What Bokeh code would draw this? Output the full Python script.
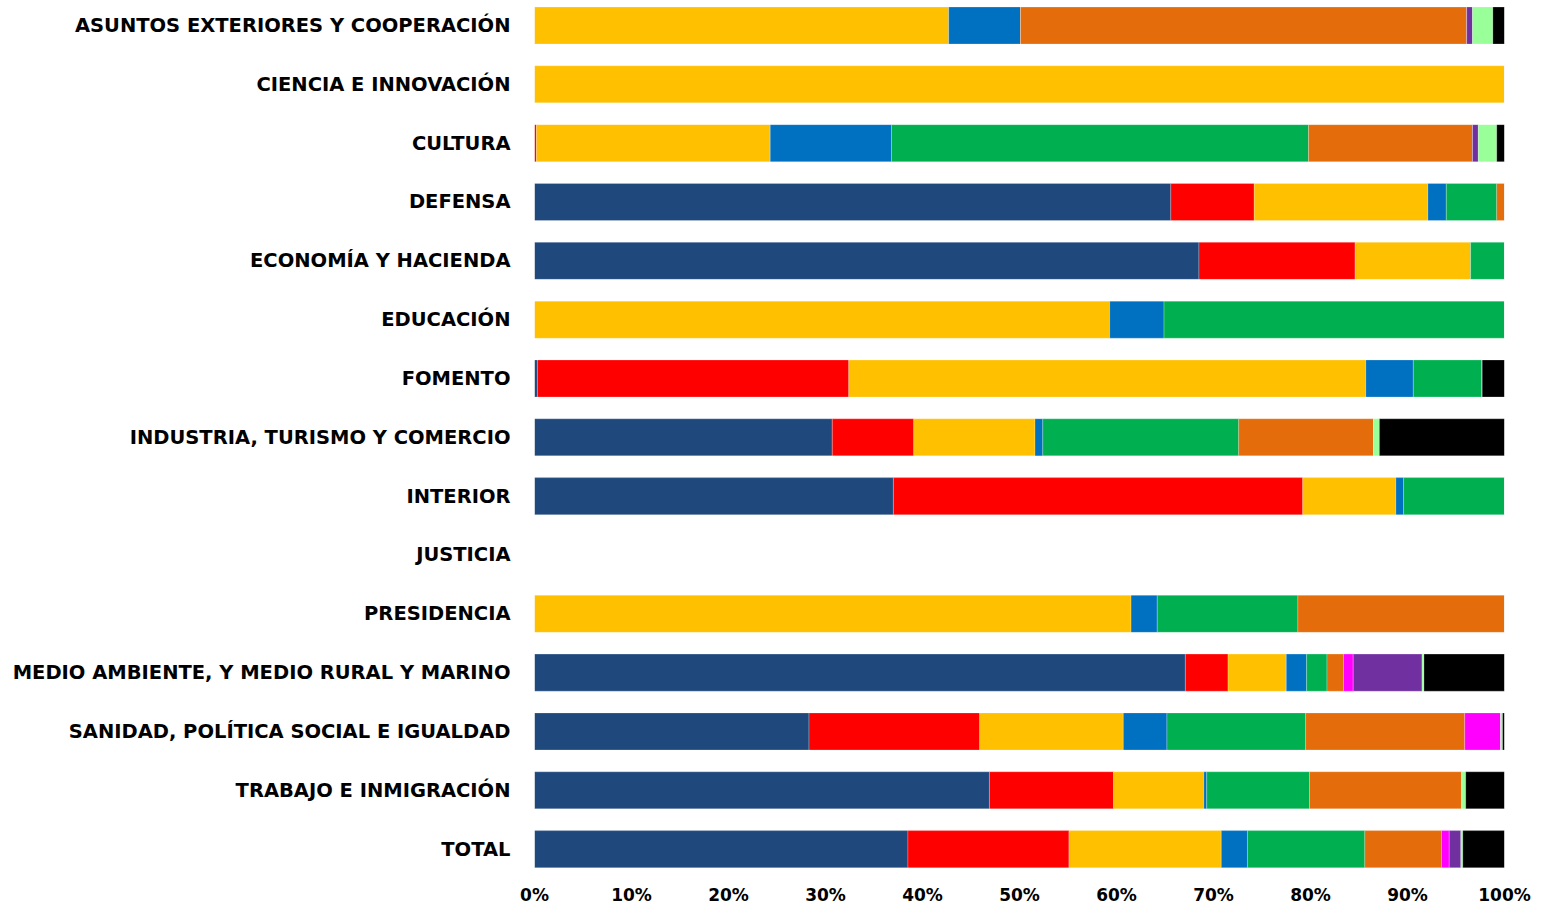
from bokeh.plotting import figure
from bokeh.models import ColumnDataSource, Range1d, FixedTicker, PrintfTickFormatter
from bokeh.embed import file_html
from bokeh.resources import INLINE

categories = [
    "ASUNTOS EXTERIORES Y COOPERACIÓN",
    "CIENCIA E INNOVACIÓN",
    "CULTURA",
    "DEFENSA",
    "ECONOMÍA Y HACIENDA",
    "EDUCACIÓN",
    "FOMENTO",
    "INDUSTRIA, TURISMO Y COMERCIO",
    "INTERIOR",
    "JUSTICIA",
    "PRESIDENCIA",
    "MEDIO AMBIENTE, Y MEDIO RURAL Y MARINO",
    "SANIDAD, POLÍTICA SOCIAL E IGUALDAD",
    "TRABAJO E INMIGRACIÓN",
    "TOTAL",
]

serie_1 = [0, 0, 0, 65.6, 68.5, 0, 0.3, 30.7, 37.0, 0, 0, 67.1, 28.3, 46.9, 38.5]
serie_2 = [0, 0, 0.2, 8.6, 16.1, 0, 32.1, 8.4, 42.2, 0, 0, 4.4, 17.6, 12.8, 16.6]
serie_3 = [42.7, 100, 24.1, 17.9, 11.9, 59.3, 53.3, 12.5, 9.6, 0, 61.5, 6.0, 14.8, 9.3, 15.7]
serie_4 = [7.4, 0, 12.5, 1.9, 0, 5.6, 4.9, 0.8, 0.8, 0, 2.7, 2.1, 4.5, 0.3, 2.7]
serie_5 = [0, 0, 43.0, 5.2, 3.5, 35.1, 7.1, 20.2, 10.4, 0, 14.5, 2.1, 14.3, 10.6, 12.1]
serie_6 = [46.0, 0, 16.9, 0.8, 0, 0, 0, 13.9, 0, 0, 21.3, 1.7, 16.4, 15.7, 7.9]
serie_7 = [0, 0, 0, 0, 0, 0, 0, 0, 0, 0, 0, 1.0, 3.7, 0, 0.8]
serie_8 = [0.6, 0, 0.6, 0, 0, 0, 0, 0, 0, 0, 0, 7.1, 0, 0, 1.2]
serie_9 = [2.1, 0, 1.9, 0, 0, 0, 0, 0.6, 0, 0, 0, 0.2, 0.2, 0.4, 0.2]
serie_10 = [1.2, 0, 0.8, 0, 0, 0, 2.3, 12.9, 0, 0, 0, 8.3, 0.2, 4.0, 4.3]

x_ticks = [0, 10, 20, 30, 40, 50, 60, 70, 80, 90, 100]

series_names = ["s1", "s2", "s3", "s4", "s5", "s6", "s7", "s8", "s9", "s10"]
series_values = [serie_1, serie_2, serie_3, serie_4, serie_5,
                 serie_6, serie_7, serie_8, serie_9, serie_10]
colors = ["#1F497D", "#FF0000", "#FFC000", "#0070C0", "#00B050",
          "#E46C0A", "#FF00FF", "#7030A0", "#99FF99", "#000000"]

n = len(categories)
ypos = [n - 1 - i for i in range(n)]

data = {"y": ypos}
for name, vals in zip(series_names, series_values):
    data[name] = vals
source = ColumnDataSource(data)

p = figure(width=1543, height=907, output_backend="svg", toolbar_location=None,
           x_range=Range1d(0, 100), y_range=Range1d(-0.55, n - 1 + 0.425),
           min_border_left=534, min_border_right=39, min_border_top=0,
           min_border_bottom=0)

p.hbar_stack(series_names, y="y", height=0.63, color=colors, source=source,
             line_color="white", line_width=0.4, line_alpha=0.6)

p.xaxis.ticker = FixedTicker(ticks=x_ticks)
p.xaxis.formatter = PrintfTickFormatter(format="%d%%")
p.yaxis.ticker = FixedTicker(ticks=ypos)
p.yaxis.major_label_overrides = {y: c for y, c in zip(ypos, categories)}

for ax in (p.xaxis[0], p.yaxis[0]):
    ax.axis_line_color = None
    ax.major_tick_line_color = None
    ax.minor_tick_line_color = None
    ax.major_tick_out = 0
    ax.major_tick_in = 0
    ax.major_label_text_font = "DejaVu Sans"
    ax.major_label_text_font_style = "bold"
    ax.major_label_text_color = "black"

p.yaxis.major_label_text_font_size = "19.5px"
p.yaxis.major_label_standoff = 24
p.xaxis.major_label_text_font_size = "17px"
p.xaxis.major_label_standoff = 3

p.xgrid.grid_line_color = None
p.ygrid.grid_line_color = None
p.outline_line_color = None
p.background_fill_color = "white"
p.border_fill_color = "white"

open("out.html", "w").write(file_html(p, INLINE))
